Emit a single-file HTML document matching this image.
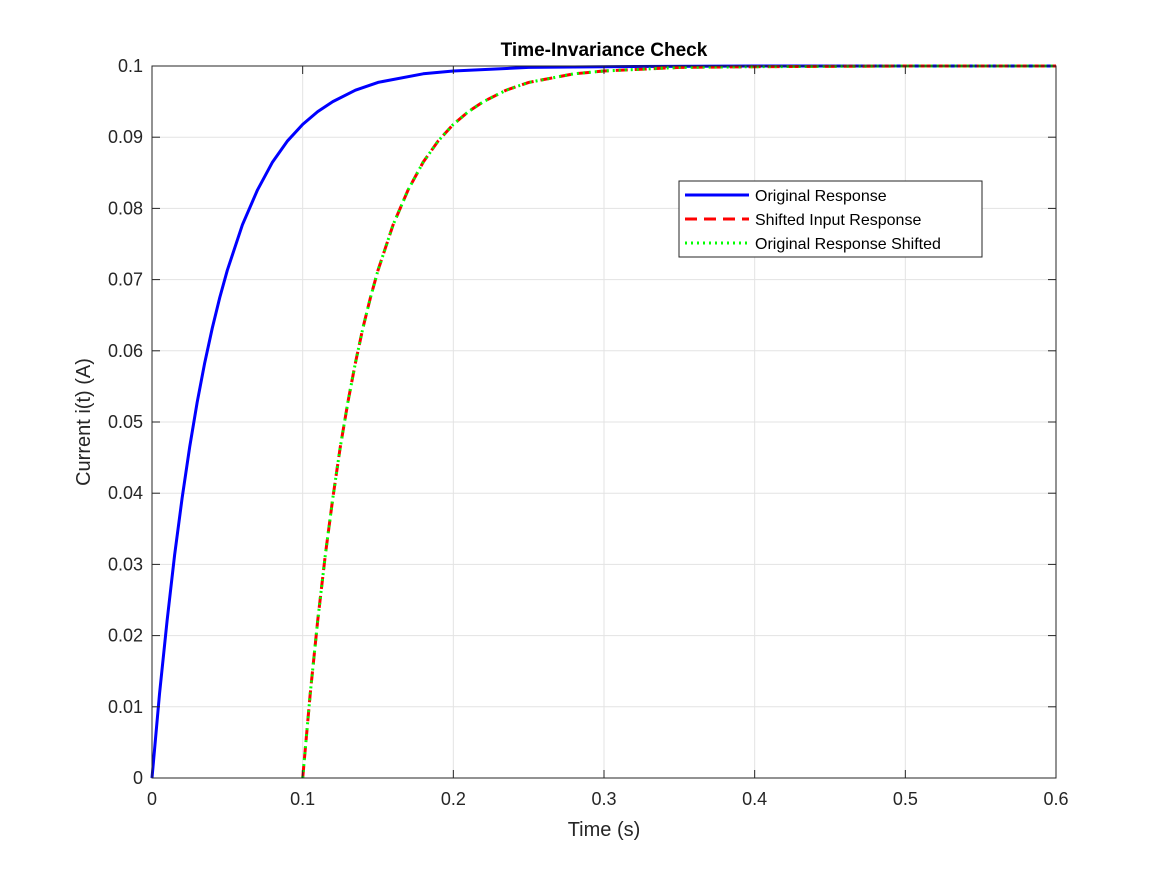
<!DOCTYPE html>
<html><head><meta charset="utf-8"><style>
body{margin:0;background:#fff}
svg{font-family:"Liberation Sans",sans-serif}
</style></head><body>
<svg id="chart" width="1167" height="875" xmlns="http://www.w3.org/2000/svg">
<rect width="1167" height="875" fill="#fff"/>
<g id="grid"></g><g id="series"></g><g id="axes"></g>
<text x="604" y="56" text-anchor="middle" font-size="19" font-weight="bold" fill="#000">Time-Invariance Check</text>
<text x="604" y="836" text-anchor="middle" font-size="20" fill="#262626">Time (s)</text>
<text transform="translate(90,422) rotate(-90)" text-anchor="middle" font-size="20" fill="#262626">Current i(t) (A)</text>
<g>
<rect x="679" y="181" width="303" height="76" fill="#fff" stroke="#262626" stroke-width="1"/>
<line x1="685" y1="195" x2="749" y2="195" stroke="#0000ff" stroke-width="3"/>
<text x="755" y="201" font-size="16" fill="#000">Original Response</text>
<line x1="685" y1="219" x2="749" y2="219" stroke="#ff0000" stroke-width="3" stroke-dasharray="12,7"/>
<text x="755" y="225" font-size="16" fill="#000">Shifted Input Response</text>
<line x1="685" y1="243" x2="749" y2="243" stroke="#00ff00" stroke-width="3" stroke-dasharray="2,4"/>
<text x="755" y="249" font-size="16" fill="#000">Original Response Shifted</text>
</g>
</svg>
<script>
const xTicks=[0,0.1,0.2,0.3,0.4,0.5,0.6];
const xTickLabels=["0","0.1","0.2","0.3","0.4","0.5","0.6"];
const yTicks=[0,0.01,0.02,0.03,0.04,0.05,0.06,0.07,0.08,0.09,0.1];
const yTickLabels=["0","0.01","0.02","0.03","0.04","0.05","0.06","0.07","0.08","0.09","0.1"];
const origTimes=[0,0.005,0.01,0.015,0.02,0.025,0.03,0.035,0.04,0.045,0.05,0.06,0.07,0.08,0.09,0.1,0.11,0.12,0.135,0.15,0.18,0.2,0.25,0.3,0.4,0.5,0.6];
const origValues=[0,0.0118,0.0221,0.0313,0.0393,0.0465,0.0528,0.0583,0.0632,0.0675,0.0713,0.0777,0.0826,0.0865,0.0895,0.0918,0.0936,0.0950,0.0966,0.0977,0.0989,0.0993,0.0998,0.0999,0.1,0.1,0.1];
const shiftTimes=[0.1,0.105,0.11,0.115,0.12,0.125,0.13,0.135,0.14,0.145,0.15,0.16,0.17,0.18,0.19,0.2,0.21,0.22,0.235,0.25,0.28,0.3,0.35,0.4,0.5,0.6];
const shiftValues=[0,0.0118,0.0221,0.0313,0.0393,0.0465,0.0528,0.0583,0.0632,0.0675,0.0713,0.0777,0.0826,0.0865,0.0895,0.0918,0.0936,0.0950,0.0966,0.0977,0.0989,0.0993,0.0998,0.0999,0.1,0.1];
const L=152,R=1056,T=66,B=778;
const xs=v=>L+(v-0)/(0.6)*(R-L);
const ys=v=>B-(v/0.1)*(B-T);
const NS="http://www.w3.org/2000/svg";
function mk(tag,attrs,parent){const e=document.createElementNS(NS,tag);for(const k in attrs)e.setAttribute(k,attrs[k]);parent.appendChild(e);return e;}
const grid=document.getElementById('grid'),axes=document.getElementById('axes'),series=document.getElementById('series');
xTicks.forEach((t,i)=>{
 const g=mk('line',{x1:xs(t),x2:xs(t),y1:T,y2:B,stroke:'#e3e3e3','stroke-width':1},grid);
 
 
 mk('line',{x1:xs(t),x2:xs(t),y1:B,y2:B-8,stroke:'#262626'},axes);
 mk('line',{x1:xs(t),x2:xs(t),y1:T,y2:T+8,stroke:'#262626'},axes);
 const tx=mk('text',{x:xs(t),y:B+27,'text-anchor':'middle','font-size':18,fill:'#262626'},axes);
 tx.textContent=xTickLabels[i];
 
 
});
yTicks.forEach((t,i)=>{
 const g=mk('line',{x1:L,x2:R,y1:ys(t),y2:ys(t),stroke:'#e3e3e3','stroke-width':1},grid);
 
 
 mk('line',{x1:L,x2:L+8,y1:ys(t),y2:ys(t),stroke:'#262626'},axes);
 mk('line',{x1:R,x2:R-8,y1:ys(t),y2:ys(t),stroke:'#262626'},axes);
 const tx=mk('text',{x:L-9,y:ys(t)+6,'text-anchor':'end','font-size':18,fill:'#262626'},axes);
 tx.textContent=yTickLabels[i];
 
 
});
const box=mk('rect',{x:L,y:T,width:R-L,height:B-T,fill:'none',stroke:'#262626','stroke-width':1},axes);


function path(tArr,vArr){return tArr.map((t,i)=>(i?'L':'M')+xs(t).toFixed(1)+','+ys(vArr[i]).toFixed(1)).join(' ');}
const p1=mk('path',{d:path(origTimes,origValues),fill:'none',stroke:'#0000ff','stroke-width':3,'stroke-linejoin':'round'},series);


const p2=mk('path',{d:path(shiftTimes,shiftValues),fill:'none',stroke:'#ff0000','stroke-width':3,'stroke-dasharray':'12,7'},series);


const p3=mk('path',{d:path(shiftTimes,shiftValues),fill:'none',stroke:'#00ff00','stroke-width':3,'stroke-dasharray':'2,4'},series);


</script>
</body></html>
